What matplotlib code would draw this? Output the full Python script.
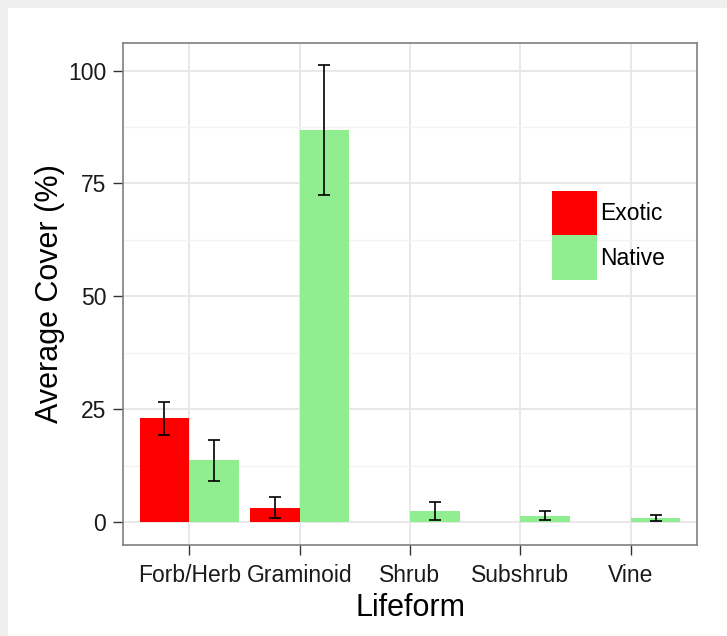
import numpy as np
import matplotlib.pyplot as plt
from matplotlib.patches import Rectangle

plt.rcParams['font.family'] = ['Liberation Sans', 'DejaVu Sans']

# average cover by lifeform, with standard error
lifeforms = ['Forb/Herb', 'Graminoid', 'Shrub', 'Subshrub', 'Vine']
exotic_mean = [23.0, 3.2, np.nan, np.nan, np.nan]
exotic_se = [3.6, 2.3, np.nan, np.nan, np.nan]
native_mean = [13.7, 86.8, 2.4, 1.4, 0.9]
native_se = [4.5, 14.4, 2.0, 1.0, 0.6]

red = '#ff0000'
green = '#90ee90'

fig = plt.figure(figsize=(7.27, 6.36), dpi=100)
fig.patch.set_facecolor('white')

# light frame along top and left edge
fig.add_artist(Rectangle((0, 1 - 8 / 636), 1, 8 / 636, transform=fig.transFigure,
                         facecolor='#efefef', edgecolor='none'))
fig.add_artist(Rectangle((0, 0), 8 / 727, 1, transform=fig.transFigure,
                         facecolor='#efefef', edgecolor='none'))

ax = fig.add_axes([123 / 727, 91 / 636, 574 / 727, 502 / 636])

x = np.arange(1, len(lifeforms) + 1)
w = 0.45
ax.bar(x - w / 2, exotic_mean, width=w, color=red, zorder=2, label='Exotic')
ax.bar(x + w / 2, native_mean, width=w, color=green, zorder=2, label='Native')
ax.errorbar(x - w / 2, exotic_mean, yerr=exotic_se, fmt='none', ecolor='black',
            elinewidth=1.2, capsize=4, capthick=1.2, zorder=3)
ax.errorbar(x + w / 2, native_mean, yerr=native_se, fmt='none', ecolor='black',
            elinewidth=1.2, capsize=4, capthick=1.2, zorder=3)

ax.set_xlim(0.4, 5.6)
ax.set_ylim(-5.05, 106.1)
ax.set_xticks(x)
ax.set_xticklabels(lifeforms)
ax.set_yticks([0, 25, 50, 75, 100])
ax.set_yticks([12.5, 37.5, 62.5, 87.5], minor=True)

ax.grid(True, which='major', color='#e6e6e6', linewidth=1.3, zorder=0)
ax.grid(True, which='minor', axis='y', color='#f2f2f2', linewidth=0.9, zorder=0)
ax.set_axisbelow(True)
ax.tick_params(axis='y', which='minor', length=0)
ax.tick_params(which='major', length=7, width=1, color='#333333',
               labelsize=16.5, labelcolor='#1a1a1a')
ax.tick_params(axis='x', pad=6.5)
ax.tick_params(axis='y', pad=5)

for s in ax.spines.values():
    s.set_color('#7f7f7f')
    s.set_linewidth(1.2)

ax.set_xlabel('Lifeform', fontsize=22, labelpad=4.5)
ax.set_ylabel('Average Cover (%)', fontsize=22, labelpad=2.5)

ax.legend(loc='upper left', bbox_to_anchor=(0.747, 0.705), frameon=False,
          fontsize=16.5, handlelength=1.96, handleheight=2.6, handletextpad=0.15,
          labelspacing=0.0, borderpad=0, borderaxespad=0)

fig.savefig('out.png', dpi=100)
